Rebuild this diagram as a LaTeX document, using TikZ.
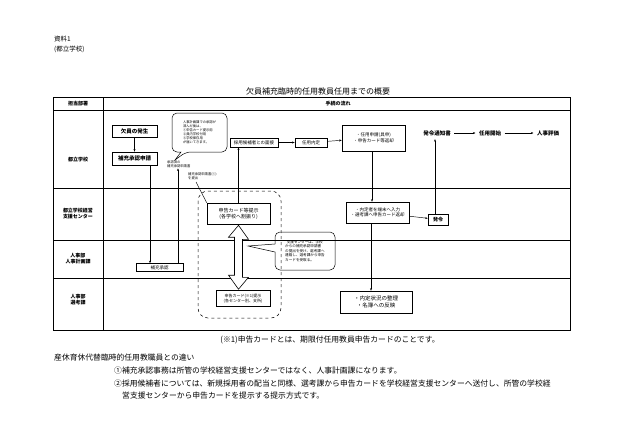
\documentclass[tikz,border=0pt]{standalone}
\usepackage{fontspec}
\setmainfont{Noto Sans CJK JP}
\usetikzlibrary{arrows.meta,calc}
\begin{document}
\begin{tikzpicture}[x=1pt,y=-1pt,
  bx/.style={draw,line width=0.6pt,inner sep=1pt,font=\fontsize{4.5}{5.5}\selectfont,align=center},
  lbl/.style={font=\fontsize{5}{6}\selectfont\bfseries,align=center},
  sm/.style={font=\fontsize{3.3}{4}\selectfont,align=left,inner sep=0pt},
  ar/.style={-{Stealth[length=2.5pt,width=2pt]},line width=0.45pt},
  grid/.style={line width=0.6pt},
  txt/.style={font=\fontsize{7.8}{9}\selectfont,inner sep=0pt}]
\fill[white] (0,0) rectangle (630,440);
\useasboundingbox (0,0) rectangle (630,440);
% header texts
\node[anchor=west,font=\fontsize{6.5}{7.5}\selectfont,inner sep=0pt] (s1) at (54,39) {資料1};
\node[anchor=west,font=\fontsize{6.5}{7.5}\selectfont,inner sep=0pt] (s2) at (54,49) {(都立学校)};
\node[txt,font=\fontsize{8}{9}\selectfont] (title) at (318,91) {欠員補充臨時的任用教員任用までの概要};
% table
\draw[line width=1pt] (53,97) rectangle (570,330);
\draw[grid] (53,110) -- (570,110);
\draw[grid] (103,97) -- (103,330);
\draw[grid] (53,188) -- (570,188);
\draw[grid] (53,240) -- (570,240);
\draw[grid] (53,278) -- (570,278);
\node[lbl] (h1) at (78,104) {担当部署};
\node[lbl,anchor=west] (h2) at (322,104) {手続の流れ};
\node[lbl] (r1) at (78,160) {都立学校};
\node[lbl] (r2) at (78,214) {都立学校経営\\支援センター};
\node[lbl] (r3) at (78,259) {人事部\\人事計画課};
\node[lbl] (r4) at (78,300) {人事部\\選考課};
% dashed group
\draw[dashed,line width=0.5pt,rounded corners=10pt] (198,191) rectangle (281,318);
% boxes
\node[bx,minimum width=45pt,minimum height=12pt,font=\fontsize{5.5}{6.5}\selectfont\bfseries] (kekkin) at (134.5,131) {欠員の発生};
\node[bx,minimum width=45pt,minimum height=13pt,font=\fontsize{5.5}{6.5}\selectfont\bfseries] (shinsei) at (134.5,158.5) {補充承認申請};
\node[bx,minimum width=48pt,minimum height=9pt] (mensetsu) at (254,142.5) {採用候補者との面接};
\node[bx,minimum width=32pt,minimum height=9pt] (naitei) at (311,142.5) {任用内定};
\node[bx,minimum width=63pt,minimum height=26pt] (ninyo) at (373.5,138) {・任用申請(具申)\\・申告カード等返却};
\node[font=\fontsize{5.5}{6.5}\selectfont\bfseries] (tsuchi) at (437,133) {発令通知書};
\node[font=\fontsize{5.5}{6.5}\selectfont\bfseries] (kaishi) at (490,133) {任用開始};
\node[font=\fontsize{5.5}{6.5}\selectfont\bfseries] (hyoka) at (548,133) {人事評価};
\node[bx,minimum width=63pt,minimum height=21pt,font=\fontsize{5}{6}\selectfont] (teiji) at (238.5,213.5) {申告カード等提示\\(各学校へ割振り)};
\node[bx,minimum width=63pt,minimum height=21pt] (nyuryoku) at (377.5,212.5) {・内定者を端末へ入力\\・選考課へ申告カード返却};
\node[bx,minimum width=20pt,minimum height=11pt,font=\fontsize{5}{6}\selectfont\bfseries] (hatsurei) at (438,219.5) {発令};
\node[bx,minimum width=47pt,minimum height=8pt] (shonin) at (159.5,267.5) {補充承認};
\node[bx,minimum width=54pt,minimum height=16pt,font=\fontsize{4}{5}\selectfont] (card) at (243,298.5) {申告カード(※1)提示\\(各センター別、支所)};
\node[bx,minimum width=72pt,minimum height=22pt,font=\fontsize{5.5}{7}\selectfont] (seiri) at (376,302) {・内定状況の整理\\・名簿への反映};
% callout 1
\draw[line width=0.5pt,rounded corners=5pt] (172,113) -- (227,113) -- (227,152) -- (186,152) [sharp corners]-- (175,160) -- (181,152) [rounded corners=5pt]-- (172,152) -- cycle;
\node[sm] (c1) at (199.5,132.5) {人事計画課での承認が\\済んだ後は、\\①申告カード提示用\\②員内学校付用\\③学校保存用\\が届いてきます。};
% callout 2
\draw[line width=0.5pt,rounded corners=5pt] (275,232) -- (335,232) -- (335,270) -- (275,270) [sharp corners]-- (275,252) -- (248,246) -- (275,244) [rounded corners=5pt]-- cycle;
\node[sm,font=\fontsize{3.6}{4.6}\selectfont] (c2) at (305,251) {\ \ 支援センターは、学校\\からの補充承認申請書\\の提出を受け、選考課へ\\連絡し、選考課から申告\\カードを受取る。};
% small labels
\node[sm,anchor=north west] (sumi) at (167,161) {承認済の\\補充承認申請書};
\node[sm,anchor=north west] (teishutsu) at (188,173) {補充承認申請書(①)\\を提出};
% connectors
\draw[ar] (kekkin) -- (shinsei);
\draw[ar] (shinsei.south -| 150,0) -- (shonin.north -| 150,0);
\draw[ar] (shonin.north -| 178,0) -- (sumi.south -| 178,0);
\draw[line width=0.45pt] (196,182) -- (teiji.north west);
\draw[ar] (teiji.north) -- (mensetsu.south -| teiji.north);
\draw[ar] (mensetsu) -- (naitei);
\draw[ar] (naitei) -- (ninyo);
\draw[ar] (ninyo.south -| 372,0) -- (nyuryoku.north -| 372,0);
\draw[ar] (nyuryoku) -- (hatsurei);
\draw[ar] (nyuryoku.south -| 371,0) -- (seiri.north -| 371,0);
\draw[ar] (hatsurei.north -| 435,0) -- (tsuchi.south -| 435,0);
\draw[ar] (tsuchi) -- (kaishi);
\draw[ar] (kaishi) -- (hyoka);
% double arrow
\draw[line width=0.6pt,fill=white] ($(teiji.south)+(0,1)$) -- ++(10,14) -- ++(-6,0) -- ++(0,38) -- ++(6,0) -- ($(card.north -| teiji.south)+(0,-1)$) -- ++(-10,-14) -- ++(6,0) -- ++(0,-38) -- ++(-6,0) -- cycle;
% bottom texts
\node[txt] (note) at (330,340) {(※1)申告カードとは、期限付任用教員申告カードのことです。};
\node[txt,anchor=west] (b0) at (54,358) {産休育休代替臨時的任用教職員との違い};
\node[txt,anchor=west] (b1) at (114,371) {①補充承認事務は所管の学校経営支援センターではなく、人事計画課になります。};
\node[txt,anchor=west] (b2) at (114,384) {②採用候補者については、新規採用者の配当と同様、選考課から申告カードを学校経営支援センターへ送付し、所管の学校経};
\node[txt,anchor=west] (b3) at (122,396) {営支援センターから申告カードを提示する提示方式です。};
\end{tikzpicture}
\end{document}
